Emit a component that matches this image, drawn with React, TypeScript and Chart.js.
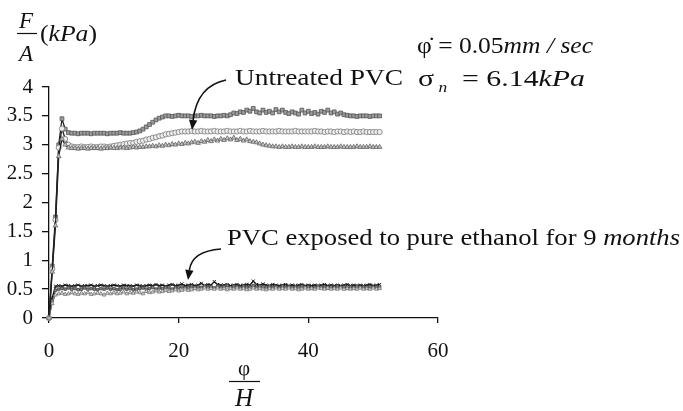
import { useEffect, useRef } from "react";
import { Chart, registerables } from "chart.js";

Chart.register(...registerables);

// Shear displacement (phi/H)
const X = [
  0, 0.5, 1, 1.5, 2, 2.5, 3, 3.5, 4, 4.5,
  5, 5.5, 6, 6.5, 7, 7.5, 8, 8.5, 9, 9.5,
  10, 10.5, 11, 11.5, 12, 12.5, 13, 13.5, 14, 14.5,
  15, 15.5, 16, 16.5, 17, 17.5, 18, 18.5, 19, 19.5,
  20, 20.5, 21, 21.5, 22, 22.5, 23, 23.5, 24, 24.5,
  25, 25.5, 26, 26.5, 27, 27.5, 28, 28.5, 29, 29.5,
  30, 30.5, 31, 31.5, 32, 32.5, 33, 33.5, 34, 34.5,
  35, 35.5, 36, 36.5, 37, 37.5, 38, 38.5, 39, 39.5,
  40, 40.5, 41, 41.5, 42, 42.5, 43, 43.5, 44, 44.5,
  45, 45.5, 46, 46.5, 47, 47.5, 48, 48.5, 49, 49.5,
  50, 50.5, 51,
];

// Untreated PVC (F/A, kPa)
const UNTREATED_A = [
  0, 0.9, 1.75, 3.0, 3.45, 3.27, 3.21, 3.2, 3.2, 3.19,
  3.2, 3.2, 3.2, 3.19, 3.2, 3.2, 3.2, 3.2, 3.19, 3.2,
  3.2, 3.2, 3.21, 3.2, 3.2, 3.2, 3.21, 3.22, 3.24, 3.27,
  3.31, 3.35, 3.39, 3.43, 3.46, 3.48, 3.5, 3.5, 3.49, 3.5,
  3.51, 3.5, 3.5, 3.5, 3.49, 3.5, 3.5, 3.51, 3.5, 3.5,
  3.5, 3.49, 3.5, 3.5, 3.51, 3.5, 3.52, 3.55, 3.54, 3.57,
  3.56, 3.6, 3.58, 3.63, 3.57, 3.55, 3.6, 3.56, 3.58, 3.55,
  3.61, 3.57, 3.6, 3.56, 3.54, 3.57, 3.55, 3.53, 3.6, 3.55,
  3.58, 3.54, 3.56, 3.53, 3.58, 3.56, 3.6, 3.55, 3.57, 3.53,
  3.55, 3.52, 3.51, 3.5, 3.5, 3.49, 3.5, 3.5, 3.5, 3.49,
  3.5, 3.5, 3.5,
];
const UNTREATED_B = [
  0, 0.85, 1.7, 2.95, 3.28, 3.1, 3.0, 2.97, 2.96, 2.96,
  2.97, 2.96, 2.96, 2.97, 2.96, 2.96, 2.97, 2.97, 2.96, 2.97,
  2.98, 2.99, 3.0, 3.01, 3.02, 3.03, 3.03, 3.05, 3.06, 3.07,
  3.09, 3.1, 3.12, 3.13, 3.15, 3.16, 3.18, 3.19, 3.2, 3.21,
  3.22, 3.23, 3.23, 3.23, 3.24, 3.23, 3.23, 3.24, 3.23, 3.23,
  3.23, 3.24, 3.23, 3.23, 3.23, 3.24, 3.23, 3.23, 3.23, 3.24,
  3.23, 3.23, 3.24, 3.23, 3.23, 3.23, 3.24, 3.23, 3.23, 3.23,
  3.23, 3.24, 3.23, 3.23, 3.23, 3.23, 3.24, 3.23, 3.23, 3.23,
  3.23, 3.23, 3.24, 3.23, 3.23, 3.22, 3.23, 3.23, 3.22, 3.23,
  3.23, 3.22, 3.23, 3.22, 3.23, 3.22, 3.22, 3.23, 3.22, 3.22,
  3.22, 3.22, 3.22,
];
const UNTREATED_C = [
  0, 0.8, 1.6, 2.8, 3.1, 3.0, 2.95, 2.94, 2.94, 2.93,
  2.94, 2.94, 2.93, 2.94, 2.94, 2.94, 2.93, 2.94, 2.94, 2.95,
  2.94, 2.94, 2.95, 2.95, 2.94, 2.95, 2.96, 2.95, 2.96, 2.96,
  2.97, 2.97, 2.98, 2.97, 2.99, 2.98, 3.0, 2.99, 3.01, 3.0,
  3.02, 3.01, 3.03, 3.02, 3.04, 3.05, 3.03, 3.06, 3.05, 3.08,
  3.06, 3.09, 3.07, 3.1, 3.08, 3.11, 3.09, 3.12, 3.08, 3.1,
  3.07, 3.09, 3.06, 3.05, 3.04, 3.02, 3.0, 2.99, 2.98, 2.97,
  2.97, 2.96, 2.97, 2.96, 2.96, 2.97, 2.96, 2.96, 2.97, 2.96,
  2.96, 2.96, 2.97, 2.96, 2.96, 2.96, 2.97, 2.96, 2.96, 2.96,
  2.97, 2.96, 2.96, 2.96, 2.96, 2.97, 2.96, 2.96, 2.96, 2.97,
  2.96, 2.96, 2.96,
];

// PVC exposed to pure ethanol for 9 months (F/A, kPa)
const ETHANOL_A = [
  0, 0.35, 0.55, 0.56, 0.55, 0.57, 0.56, 0.55, 0.56, 0.57,
  0.55, 0.56, 0.56, 0.57, 0.55, 0.56, 0.57, 0.56, 0.55, 0.56,
  0.57, 0.56, 0.55, 0.57, 0.56, 0.56, 0.55, 0.57, 0.56, 0.55,
  0.56, 0.57, 0.56, 0.58, 0.56, 0.57, 0.55, 0.57, 0.58, 0.56,
  0.57, 0.59, 0.56, 0.57, 0.58, 0.56, 0.57, 0.6, 0.56, 0.58,
  0.57, 0.63, 0.58, 0.57, 0.57, 0.58, 0.56, 0.57, 0.58, 0.56,
  0.57, 0.58, 0.57, 0.64, 0.58, 0.57, 0.59, 0.57, 0.56, 0.58,
  0.57, 0.56, 0.57, 0.58, 0.56, 0.57, 0.56, 0.57, 0.58, 0.56,
  0.57, 0.56, 0.57, 0.56, 0.57, 0.58, 0.56, 0.57, 0.56, 0.57,
  0.56, 0.57, 0.58, 0.56, 0.57, 0.56, 0.57, 0.56, 0.57, 0.58,
  0.56, 0.57, 0.58,
];
const ETHANOL_B = [
  0, 0.3, 0.48, 0.5, 0.51, 0.5, 0.52, 0.5, 0.51, 0.49,
  0.5, 0.52, 0.5, 0.51, 0.5, 0.49, 0.51, 0.5, 0.52, 0.5,
  0.51, 0.49, 0.5, 0.52, 0.5, 0.51, 0.49, 0.5, 0.51, 0.52,
  0.5, 0.51, 0.53, 0.5, 0.52, 0.51, 0.53, 0.52, 0.5, 0.53,
  0.52, 0.54, 0.52, 0.53, 0.55, 0.52, 0.54, 0.53, 0.55, 0.53,
  0.54, 0.52, 0.55, 0.53, 0.54, 0.56, 0.53, 0.55, 0.54, 0.53,
  0.55, 0.53, 0.54, 0.56, 0.53, 0.55, 0.54, 0.52, 0.55, 0.53,
  0.54, 0.52, 0.55, 0.53, 0.54, 0.52, 0.54, 0.53, 0.55, 0.53,
  0.54, 0.52, 0.53, 0.55, 0.53, 0.54, 0.52, 0.54, 0.53, 0.55,
  0.53, 0.54, 0.52, 0.54, 0.53, 0.55, 0.53, 0.54, 0.52, 0.54,
  0.53, 0.54, 0.53,
];
const ETHANOL_C = [
  0, 0.25, 0.4, 0.42, 0.43, 0.41, 0.42, 0.44, 0.42, 0.41,
  0.43, 0.42, 0.44, 0.41, 0.42, 0.43, 0.42, 0.4, 0.43, 0.42,
  0.44, 0.42, 0.43, 0.45, 0.42, 0.44, 0.43, 0.45, 0.44, 0.42,
  0.46, 0.44, 0.45, 0.47, 0.45, 0.46, 0.48, 0.46, 0.47, 0.49,
  0.47, 0.48, 0.5, 0.48, 0.49, 0.51, 0.49, 0.5, 0.52, 0.5,
  0.51, 0.5, 0.52, 0.5, 0.51, 0.49, 0.51, 0.5, 0.52, 0.5,
  0.51, 0.49, 0.5, 0.52, 0.5, 0.51, 0.5, 0.49, 0.51, 0.5,
  0.52, 0.5, 0.51, 0.5, 0.52, 0.5, 0.51, 0.49, 0.5, 0.52,
  0.5, 0.51, 0.5, 0.52, 0.51, 0.5, 0.52, 0.5, 0.51, 0.5,
  0.52, 0.5, 0.51, 0.5, 0.51, 0.5, 0.52, 0.5, 0.51, 0.5,
  0.52, 0.5, 0.51,
];

const X_MIN = 0;
const X_MAX = 60;
const X_STEP = 20;
const Y_MIN = 0;
const Y_MAX = 4;
const Y_STEP = 0.5;

const LABEL_UNTREATED = "Untreated PVC";
const LABEL_ETHANOL = "PVC exposed to pure ethanol for 9 ";
const LABEL_ETHANOL_ITALIC = "months";

const SERIF = "'Liberation Serif', 'Times New Roman', Times, serif";
const INK = "#111";

const pts = (ys: number[]) =>
  ys.slice(0, X.length).map((y, i) => ({ x: X[i], y }));

type Piece = { text: string; font: string; dy?: number };

function drawRun(
  ctx: CanvasRenderingContext2D,
  pieces: Piece[],
  x: number,
  y: number,
  width?: number
) {
  const widths = pieces.map((p) => {
    ctx.font = p.font;
    return ctx.measureText(p.text).width;
  });
  const total = widths.reduce((a, b) => a + b, 0);
  const sx = width ? width / total : 1;
  ctx.save();
  ctx.translate(x, y);
  ctx.scale(sx, 1);
  ctx.textAlign = "left";
  ctx.textBaseline = "alphabetic";
  let cx = 0;
  pieces.forEach((p, i) => {
    ctx.font = p.font;
    ctx.fillText(p.text, cx, p.dy || 0);
    cx += widths[i];
  });
  ctx.restore();
}

function arrow(
  ctx: CanvasRenderingContext2D,
  x0: number,
  y0: number,
  cx: number,
  cy: number,
  x1: number,
  y1: number
) {
  const ang = Math.atan2(y1 - cy, x1 - cx);
  const len = 10;
  const half = 4.2;
  const bx = x1 - Math.cos(ang) * len;
  const by = y1 - Math.sin(ang) * len;
  ctx.beginPath();
  ctx.moveTo(x0, y0);
  ctx.quadraticCurveTo(cx, cy, bx, by);
  ctx.lineWidth = 1.6;
  ctx.stroke();
  ctx.beginPath();
  ctx.moveTo(x1, y1);
  ctx.lineTo(bx + Math.sin(ang) * half, by - Math.cos(ang) * half);
  ctx.lineTo(bx - Math.sin(ang) * half, by + Math.cos(ang) * half);
  ctx.closePath();
  ctx.fill();
}

const annotations = {
  id: "annotations",
  afterDraw(chart: Chart) {
    const ctx = chart.ctx;
    ctx.save();
    ctx.fillStyle = INK;
    ctx.strokeStyle = INK;
    const it = (s: number) => `italic ${s}px ${SERIF}`;
    const rm = (s: number) => `${s}px ${SERIF}`;

    // Y-axis title: F/A (kPa)
    ctx.textAlign = "center";
    ctx.textBaseline = "alphabetic";
    ctx.font = it(23);
    ctx.fillText("F", 26, 28);
    ctx.fillText("A", 26, 61);
    ctx.lineWidth = 1.2;
    ctx.beginPath();
    ctx.moveTo(17, 33.5);
    ctx.lineTo(37, 33.5);
    ctx.stroke();
    drawRun(
      ctx,
      [
        { text: "(", font: rm(23) },
        { text: "kPa", font: it(23) },
        { text: ")", font: rm(23) },
      ],
      40,
      41,
      57
    );

    // X-axis title: phi/H
    ctx.textAlign = "center";
    ctx.font = rm(21);
    ctx.fillText("φ", 244, 375);
    ctx.beginPath();
    ctx.moveTo(229, 381.5);
    ctx.lineTo(260, 381.5);
    ctx.stroke();
    ctx.font = it(25);
    ctx.fillText("H", 244, 406);

    // Test conditions
    drawRun(
      ctx,
      [
        { text: "φ̇", font: rm(23) },
        { text: " = ", font: rm(23) },
        { text: "0.05", font: rm(23) },
        { text: "mm", font: it(23) },
        { text: " / ", font: it(23) },
        { text: "sec", font: it(23) },
      ],
      417,
      53,
      176
    );
    drawRun(
      ctx,
      [
        { text: "σ", font: rm(24) },
        { text: " n", font: it(14), dy: 6 },
        { text: "  = ", font: rm(24) },
        { text: "6.14", font: rm(24) },
        { text: "kPa", font: it(24) },
      ],
      418,
      86,
      167
    );

    // Series annotations
    drawRun(ctx, [{ text: LABEL_UNTREATED, font: rm(23) }], 235, 85, 168);
    drawRun(
      ctx,
      [
        { text: LABEL_ETHANOL, font: rm(23) },
        { text: LABEL_ETHANOL_ITALIC, font: it(23) },
      ],
      227,
      245,
      453
    );

    arrow(ctx, 226, 80, 197, 86, 192, 130);
    arrow(ctx, 221, 249, 192, 251, 188, 280);

    ctx.restore();
  },
};

export default function App() {
  const ref = useRef<HTMLCanvasElement | null>(null);

  useEffect(() => {
    if (!ref.current) return;
    const tickFont = { family: SERIF, size: 21 };
    const untreatedLine = "#222";
    const chart = new Chart(ref.current, {
      type: "scatter",
      data: {
        datasets: [
          {
            label: "Untreated PVC (a)",
            data: pts(UNTREATED_C),
            showLine: true,
            borderColor: untreatedLine,
            borderWidth: 1.3,
            pointStyle: "triangle",
            pointRadius: 2.7,
            pointBackgroundColor: "#c4c4c4",
            pointBorderColor: "#666",
            pointBorderWidth: 0.8,
            clip: false,
          },
          {
            label: "Untreated PVC (b)",
            data: pts(UNTREATED_B),
            showLine: true,
            borderColor: untreatedLine,
            borderWidth: 1.3,
            pointStyle: "circle",
            pointRadius: 2.6,
            pointBackgroundColor: "#eeeeee",
            pointBorderColor: "#777",
            pointBorderWidth: 0.8,
            clip: false,
          },
          {
            label: "Untreated PVC (c)",
            data: pts(UNTREATED_A),
            showLine: true,
            borderColor: untreatedLine,
            borderWidth: 1.3,
            pointStyle: "rect",
            pointRadius: 2.7,
            pointBackgroundColor: "#9c9c9c",
            pointBorderColor: "#555",
            pointBorderWidth: 0.8,
            clip: false,
          },
          {
            label: "Ethanol (c)",
            data: pts(ETHANOL_C),
            showLine: true,
            borderColor: "#777",
            borderWidth: 1,
            pointStyle: "triangle",
            pointRadius: 2.2,
            pointBackgroundColor: "#d8d8d8",
            pointBorderColor: "#777",
            pointBorderWidth: 0.8,
            clip: false,
          },
          {
            label: "Ethanol (b)",
            data: pts(ETHANOL_B),
            showLine: true,
            borderColor: "#444",
            borderWidth: 1,
            pointStyle: "rect",
            pointRadius: 1.8,
            pointBackgroundColor: "#888",
            pointBorderColor: "#444",
            pointBorderWidth: 0.8,
            clip: false,
          },
          {
            label: "Ethanol (a)",
            data: pts(ETHANOL_A),
            showLine: true,
            borderColor: "#111",
            borderWidth: 1.4,
            pointStyle: "crossRot",
            pointRadius: 2.2,
            pointBorderColor: "#222",
            pointBorderWidth: 1,
            clip: false,
          },
        ],
      },
      options: {
        responsive: false,
        animation: false,
        layout: { padding: { top: 87, right: 245, bottom: 0, left: 0 } },
        plugins: {
          legend: { display: false },
          tooltip: { enabled: false },
        },
        scales: {
          x: {
            type: "linear",
            min: X_MIN,
            max: X_MAX,
            ticks: {
              stepSize: X_STEP,
              font: tickFont,
              color: INK,
              padding: 16,
              maxRotation: 0,
            },
            grid: {
              display: true,
              drawOnChartArea: false,
              tickLength: 5,
              color: INK,
              lineWidth: 1.3,
            },
            border: { color: INK, width: 1.3 },
            afterFit: (s: any) => {
              s.height = 93;
            },
          },
          y: {
            type: "linear",
            min: Y_MIN,
            max: Y_MAX,
            ticks: {
              stepSize: Y_STEP,
              font: tickFont,
              color: INK,
              padding: 9,
              callback: (v: any) => String(Number(v)),
            },
            grid: {
              display: true,
              drawOnChartArea: false,
              tickLength: 7,
              color: INK,
              lineWidth: 1.3,
            },
            border: { color: INK, width: 1.3 },
            afterFit: (s: any) => {
              s.width = 49;
            },
          },
        },
      },
      plugins: [annotations],
    });
    return () => chart.destroy();
  }, []);

  return (
    <div
      style={{
        position: "fixed",
        left: 0,
        top: 0,
        width: 683,
        height: 411,
        background: "#fff",
      }}
    >
      <canvas ref={ref} width={683} height={411} />
    </div>
  );
}
